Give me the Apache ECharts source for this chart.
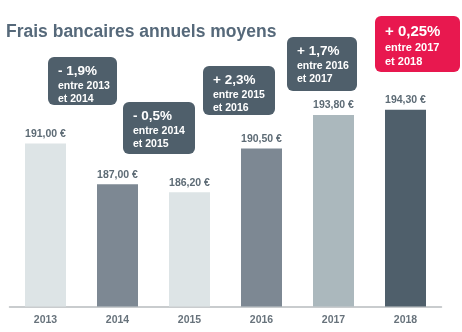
<!DOCTYPE html>
<html>
<head>
<meta charset="utf-8">
<script src="https://cdn.jsdelivr.net/npm/echarts@6/dist/echarts.min.js"></script>
<style>html,body{margin:0;padding:0;background:#fff}#c{width:462px;height:332px}</style>
</head>
<body>
<div id="c"></div>
<script>
const categories = ['2013', '2014', '2015', '2016', '2017', '2018'];
const fees = [191.00, 187.00, 186.20, 190.50, 193.80, 194.30];
const changes = ['- 1,9%', '- 0,5%', '+ 2,3%', '+ 1,7%', '+ 0,25%'];
const periods = [['entre 2013', 'et 2014'], ['entre 2014', 'et 2015'], ['entre 2015', 'et 2016'], ['entre 2016', 'et 2017'], ['entre 2017', 'et 2018']];

const barColors = ['#dde4e6', '#7d8893', '#dde4e6', '#7d8893', '#abb8bd', '#4f5f6b'];
const boxes = [
  {x: 48, y: 57, w: 69, h: 48, c: '#4f5f6b', big: 13.5},
  {x: 123, y: 102, w: 72, h: 52, c: '#4f5f6b', big: 13.5},
  {x: 203, y: 66, w: 72, h: 49, c: '#4f5f6b', big: 13.5},
  {x: 287, y: 37, w: 70, h: 54, c: '#4f5f6b', big: 13.5},
  {x: 375, y: 16, w: 85, h: 56, c: '#e8184f', big: 15}
];
const fontFam = '"Liberation Sans", Arial, sans-serif';

const chart = echarts.init(document.getElementById('c'), null, {renderer: 'canvas'});
const fmt = v => v.toFixed(2).replace('.', ',') + ' €';

const graphics = boxes.map((b, i) => ({
  type: 'group',
  left: b.x, top: b.y,
  children: [
    {type: 'rect', shape: {x: 0, y: 0, width: b.w, height: b.h, r: 6}, style: {fill: b.c}},
    {type: 'text', x: 10, y: 6, style: {
      text: '{a|' + changes[i] + '}\n{b|' + periods[i][0] + '}\n{b|' + periods[i][1] + '}',
      fill: '#fff',
      fontFamily: fontFam,
      rich: {
        a: {fontSize: b.big, fontWeight: 'bold', lineHeight: i === 4 ? 19 : 17, fill: '#fff', fontFamily: fontFam},
        b: {fontSize: i === 4 ? 11 : 10.5, fontWeight: 'bold', lineHeight: i === 4 ? 14 : 12.5, fill: '#fff', fontFamily: fontFam}
      }
    }}
  ]
}));

chart.setOption({
  backgroundColor: '#fff',
  animation: false,
  title: {
    text: 'Frais bancaires annuels moyens',
    left: 1, top: 18,
    textStyle: {fontFamily: fontFam, fontSize: 17.5, fontWeight: 'bold', color: '#56697a'}
  },
  grid: {left: 9.5, right: 20.5, top: 92.5, bottom: 25.5, containLabel: false},
  xAxis: {
    type: 'category',
    data: categories,
    axisLine: {lineStyle: {color: '#b8bcbf', width: 1.5}},
    axisTick: {show: false},
    axisLabel: {margin: 8, fontFamily: fontFam, fontSize: 10.5, fontWeight: 'bold', color: '#68737c'}
  },
  yAxis: {
    type: 'value', min: 175, max: 196,
    show: false,
    splitLine: {show: false}
  },
  series: [{
    type: 'bar',
    barWidth: 41,
    data: fees.map((v, i) => ({value: v, itemStyle: {color: barColors[i]}})),
    label: {
      show: true, position: 'top', distance: 4,
      formatter: p => fmt(p.value),
      fontFamily: fontFam, fontSize: 10.5, fontWeight: 'bold', color: '#5d6b75'
    }
  }],
  graphic: graphics
});
</script>
</body>
</html>
